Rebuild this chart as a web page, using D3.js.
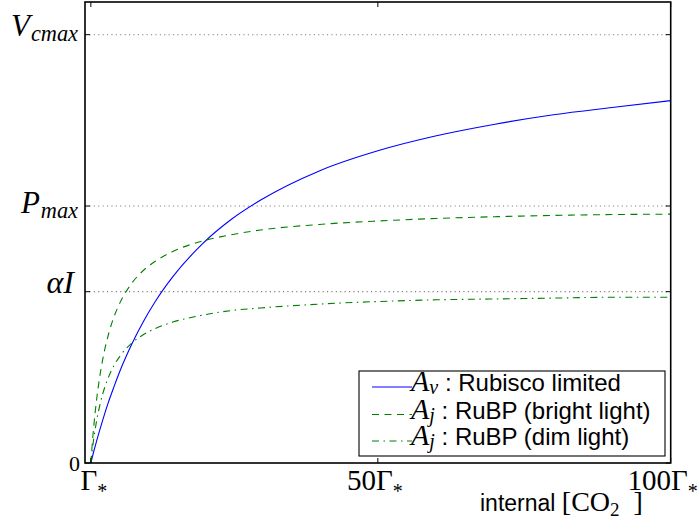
<!DOCTYPE html>
<html lang="en">
<head>
  <meta charset="UTF-8">
  <title>Photosynthesis limits vs internal CO2</title>
  <script src="https://d3js.org/d3.v7.min.js"></script>
  <style>
    body { margin: 0; background: #fff; }
    .math { font-family: "Liberation Serif", "DejaVu Serif", serif; }
    .sans { font-family: "Liberation Sans", Arial, sans-serif; }
  </style>
</head>
<body>
  <svg width="697" height="527"></svg>

  <script>
    // internal CO2 in multiples of Gamma*
    const ci = [1, 1.25, 1.5, 2, 2.5, 3, 4, 5, 6, 8, 10, 12, 15, 20, 25, 30, 40, 50, 60, 70, 80, 90, 100];
    // Rubisco limited (fraction of Vcmax)
    const av = [0, 0.014, 0.027, 0.052, 0.076, 0.099, 0.142, 0.180, 0.216, 0.278, 0.331, 0.377, 0.435,
                0.511, 0.569, 0.614, 0.682, 0.729, 0.764, 0.791, 0.813, 0.830, 0.846];
    // RuBP limited, bright light
    const ajBright = [0, 0.047, 0.086, 0.150, 0.200, 0.240, 0.300, 0.343, 0.375, 0.420, 0.450, 0.471, 0.494,
                      0.518, 0.533, 0.544, 0.557, 0.565, 0.571, 0.575, 0.578, 0.580, 0.581];
    // RuBP limited, dim light
    const ajDim = [0, 0.031, 0.057, 0.100, 0.133, 0.160, 0.200, 0.229, 0.250, 0.280, 0.300, 0.314, 0.329,
                   0.345, 0.356, 0.362, 0.371, 0.377, 0.381, 0.383, 0.385, 0.387, 0.387];

    const yTickVals = [0, 0.4, 0.6, 1.0];   // 0, alpha I, Pmax, Vcmax
    const xTickVals = [1, 50, 100];         // Gamma*, 50 Gamma*, 100 Gamma*
    const xNames = ["", "50", "100"];

    const svg = d3.select("svg");
    const pLeft = 85, pRight = 670.7, pTop = 2, pBottom = 463;

    const x = d3.scaleLinear().domain([0, 100]).range([pLeft, pRight]);
    const y = d3.scaleLinear().domain([0, 1.0763]).range([pBottom, pTop]);

    // horizontal dotted grid
    svg.append("g").selectAll("line")
      .data(yTickVals.filter(v => v > 0))
      .enter().append("line")
      .attr("x1", pLeft).attr("x2", pRight)
      .attr("y1", d => y(d)).attr("y2", d => y(d))
      .attr("stroke", "#777").attr("stroke-width", 1.1)
      .attr("stroke-dasharray", "1.1,3.3");

    // curves
    const line = d3.line()
      .x((d, i) => x(ci[i]))
      .y(d => y(d))
      .curve(d3.curveMonotoneX);

    const series = [
      { vals: av, color: "#0000ff", dash: null },
      { vals: ajBright, color: "#008000", dash: "7,5.5" },
      { vals: ajDim, color: "#008000", dash: "7,4.5,1.5,4.5" }
    ];

    svg.append("g").selectAll("path")
      .data(series)
      .enter().append("path")
      .attr("d", d => line(d.vals))
      .attr("fill", "none")
      .attr("stroke", d => d.color)
      .attr("stroke-width", 1.1)
      .attr("stroke-dasharray", d => d.dash);

    // frame
    svg.append("rect")
      .attr("x", pLeft).attr("y", pTop)
      .attr("width", pRight - pLeft).attr("height", pBottom - pTop)
      .attr("fill", "none").attr("stroke", "#000").attr("stroke-width", 1.6);

    // inward ticks on all sides
    const ticks = svg.append("g").attr("stroke", "#000").attr("stroke-width", 1);
    xTickVals.forEach(v => {
      ticks.append("line").attr("x1", x(v)).attr("x2", x(v)).attr("y1", pBottom).attr("y2", pBottom - 5);
      ticks.append("line").attr("x1", x(v)).attr("x2", x(v)).attr("y1", pTop).attr("y2", pTop + 5);
    });
    yTickVals.forEach(v => {
      ticks.append("line").attr("x1", pLeft).attr("x2", pLeft + 5).attr("y1", y(v)).attr("y2", y(v));
      ticks.append("line").attr("x1", pRight).attr("x2", pRight - 5).attr("y1", y(v)).attr("y2", y(v));
    });

    // y tick labels
    const yLab = svg.append("g");
    function subLabel(g, xr, yb, main, sub, size) {
      const t = g.append("text").attr("class", "math")
        .attr("x", xr).attr("y", yb).attr("text-anchor", "end")
        .attr("font-size", size).attr("fill", "#000").attr("font-style", "italic");
      t.append("tspan").text(main);
      t.append("tspan").attr("font-size", size * 0.72).attr("dx", 1).attr("dy", 5).text(sub);
      return t;
    }
    subLabel(yLab, 78, y(1.0) + 1, "V", "cmax", 31);
    subLabel(yLab, 78, y(0.6) + 7, "P", "max", 31);
    yLab.append("text").attr("class", "math")
      .attr("x", 74).attr("y", y(0.4) + 1).attr("text-anchor", "end")
      .attr("font-size", 32).attr("font-style", "italic").text("αI");
    yLab.append("text").attr("class", "math")
      .attr("x", 80).attr("y", y(0) + 8).attr("text-anchor", "end")
      .attr("font-size", 22).text("0");

    // x tick labels
    const xShift = [3, -3, -8];
    xTickVals.forEach((v, i) => {
      const t = svg.append("text").attr("class", "math")
        .attr("x", x(v) + xShift[i]).attr("y", 490).attr("text-anchor", "middle")
        .attr("font-size", 29).attr("fill", "#000");
      t.append("tspan").text(xNames[i] + "Γ");
      t.append("tspan").attr("font-size", 20).attr("dy", 8).text("*");
    });

    // x label
    const xl = svg.append("text").attr("x", 480).attr("y", 511).attr("fill", "#000");
    xl.append("tspan").attr("class", "sans").attr("font-size", 23).text("internal ");
    xl.append("tspan").attr("class", "math").attr("font-size", 28).text("[CO");
    xl.append("tspan").attr("class", "math").attr("font-size", 19).attr("dy", 5).text("2");
    xl.append("tspan").attr("class", "math").attr("font-size", 28).attr("dy", -5).text("\u2002]");

    // legend
    const legendItems = [
      { sub: "v", text: " : Rubisco limited" },
      { sub: "j", text: " : RuBP (bright light)" },
      { sub: "j", text: " : RuBP (dim light)" }
    ];
    const lg = svg.append("g");
    lg.append("rect").attr("x", 359).attr("y", 371).attr("width", 306).attr("height", 85)
      .attr("fill", "#fff").attr("stroke", "#000").attr("stroke-width", 1.1);
    const rowY = [387, 414.5, 441];
    legendItems.forEach((d, i) => {
      lg.append("line").attr("x1", 372).attr("x2", 412)
        .attr("y1", rowY[i]).attr("y2", rowY[i])
        .attr("stroke", series[i].color).attr("stroke-width", 1.1)
        .attr("stroke-dasharray", series[i].dash);
      const t = lg.append("text").attr("x", 411).attr("y", rowY[i] + 4).attr("fill", "#000");
      t.append("tspan").attr("class", "math").attr("font-style", "italic").attr("font-size", 30).text("A");
      t.append("tspan").attr("class", "math").attr("font-style", "italic").attr("font-size", 20)
        .attr("dy", 3).text(d.sub);
      t.append("tspan").attr("class", "sans").attr("font-size", 24).attr("dy", -3).text(d.text);
    });
  </script>
</body>
</html>
